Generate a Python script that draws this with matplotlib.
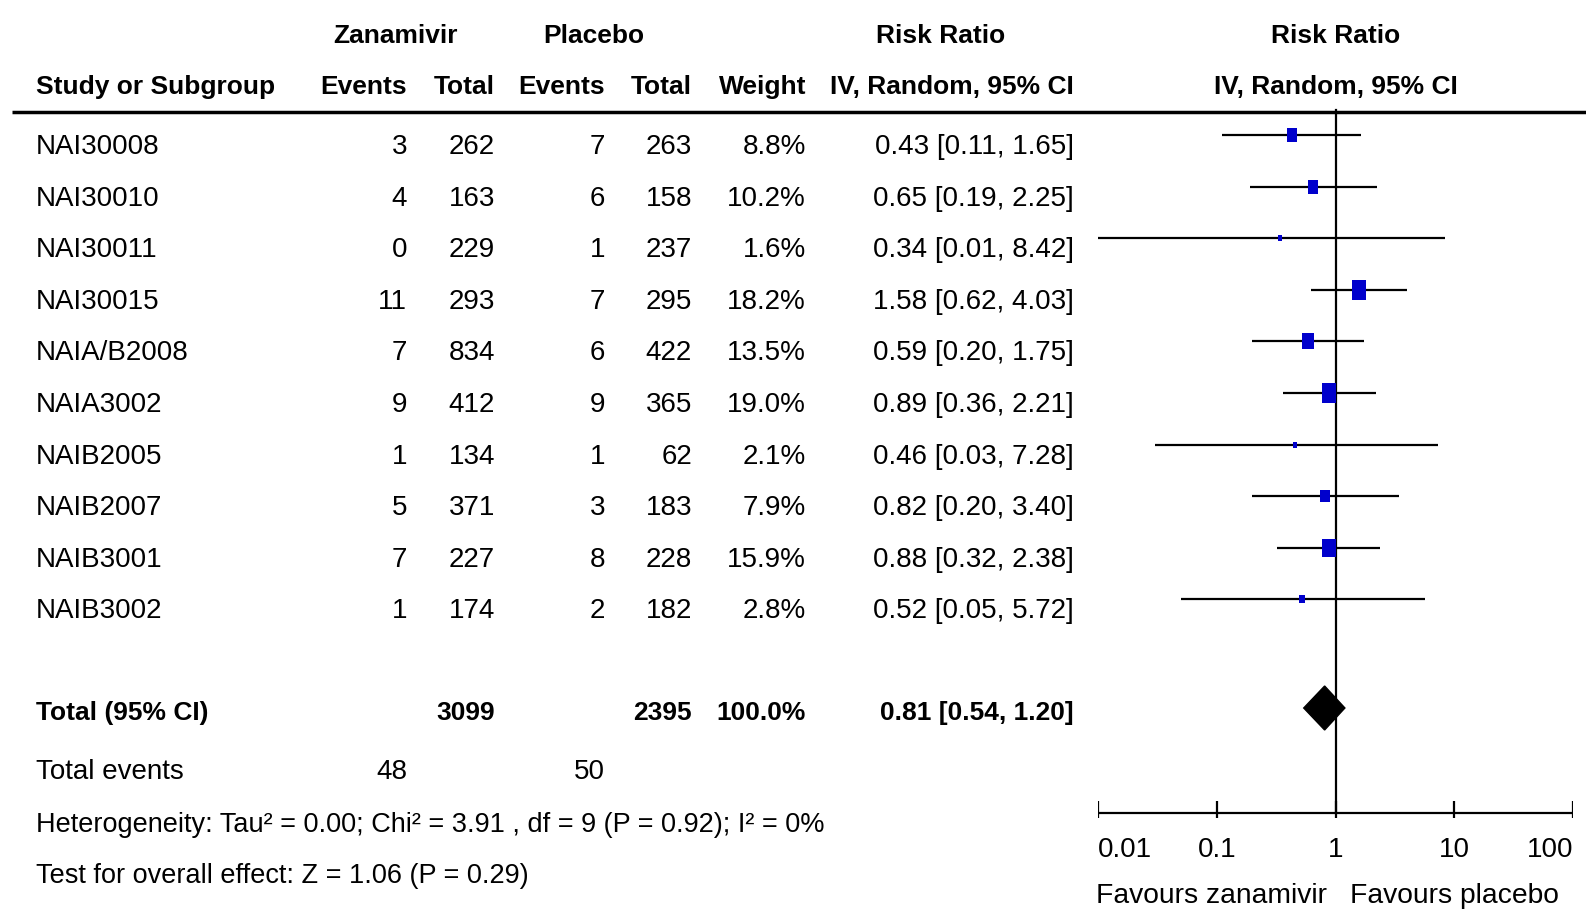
import matplotlib
matplotlib.use("Agg")
import matplotlib.pyplot as plt
import numpy as np

# --- data ---
studies = ["NAI30008", "NAI30010", "NAI30011", "NAI30015", "NAIA/B2008",
           "NAIA3002", "NAIB2005", "NAIB2007", "NAIB3001", "NAIB3002"]
zan_events = [3, 4, 0, 11, 7, 9, 1, 5, 7, 1]
zan_total = [262, 163, 229, 293, 834, 412, 134, 371, 227, 174]
pla_events = [7, 6, 1, 7, 6, 9, 1, 3, 8, 2]
pla_total = [263, 158, 237, 295, 422, 365, 62, 183, 228, 182]
weight = [8.8, 10.2, 1.6, 18.2, 13.5, 19.0, 2.1, 7.9, 15.9, 2.8]
rr = [0.43, 0.65, 0.34, 1.58, 0.59, 0.89, 0.46, 0.82, 0.88, 0.52]
ci_low = [0.11, 0.19, 0.01, 0.62, 0.20, 0.36, 0.03, 0.20, 0.32, 0.05]
ci_high = [1.65, 2.25, 8.42, 4.03, 1.75, 2.21, 7.28, 3.40, 2.38, 5.72]

total_zan, total_pla = 3099, 2395
events_zan, events_pla = 48, 50
total_rr, total_low, total_high = 0.81, 0.54, 1.20
heterogeneity = "Heterogeneity: Tau² = 0.00; Chi² = 3.91 , df = 9 (P = 0.92); I² = 0%"
overall = "Test for overall effect: Z = 1.06 (P = 0.29)"
axis_ticks = [0.01, 0.1, 1, 10, 100]
tick_labels = ["0.01", "0.1", "1", "10", "100"]

plt.rcParams["font.family"] = ["Liberation Sans", "DejaVu Sans"]

W, H = 1586, 911
fig = plt.figure(figsize=(W / 100, H / 100), dpi=100)
ax = fig.add_axes([0, 0, 1, 1])
ax.set_xlim(0, W)
ax.set_ylim(H, 0)
ax.axis("off")

# forest panel spans pixels 1098..1573 on a log scale
px0, px1 = 1098, 1573
axf = fig.add_axes([px0 / W, 0, (px1 - px0) / W, 1])
axf.set_xscale("log")
axf.set_xlim(0.01, 100)
axf.set_ylim(H, 0)
axf.axis("off")
axf.patch.set_alpha(0)

txt = dict(fontsize=20, color="black", va="center")
bold = dict(txt, fontsize=19, fontweight="bold")
foot = dict(txt, fontsize=19.5)

# header
ax.text(396, 36, "Zanamivir", ha="center", **bold)
ax.text(594, 36, "Placebo", ha="center", **bold)
ax.text(941, 36, "Risk Ratio", ha="center", **bold)
ax.text(1336, 36, "Risk Ratio", ha="center", **bold)
ax.text(36, 87, "Study or Subgroup", ha="left", **bold)
col_x = [407, 495, 605, 692, 806]
for x, h in zip(col_x, ["Events", "Total", "Events", "Total", "Weight"]):
    ax.text(x, 87, h, ha="right", **bold)
ax.text(1074, 87, "IV, Random, 95% CI", ha="right", **bold)
ax.text(1336, 87, "IV, Random, 95% CI", ha="center", **bold)
ax.plot([12, W], [112, 112], color="black", lw=2.5, solid_capstyle="butt")

# study rows
row_y = 147 + 51.6 * np.arange(len(studies))
for i, y in enumerate(row_y):
    ax.text(36, y, studies[i], ha="left", **txt)
    ax.text(col_x[0], y, str(zan_events[i]), ha="right", **txt)
    ax.text(col_x[1], y, str(zan_total[i]), ha="right", **txt)
    ax.text(col_x[2], y, str(pla_events[i]), ha="right", **txt)
    ax.text(col_x[3], y, str(pla_total[i]), ha="right", **txt)
    ax.text(col_x[4], y, f"{weight[i]:.1f}%", ha="right", **txt)
    ax.text(1074, y, f"{rr[i]:.2f} [{ci_low[i]:.2f}, {ci_high[i]:.2f}]", ha="right", **txt)

# forest marks (slightly above the text centre, as in RevMan)
mark_y = row_y - 12
rect = [(-1, -1.4), (1, -1.4), (1, 1.4), (-1, 1.4), (-1, -1.4)]
for i, y in enumerate(mark_y):
    axf.plot([ci_low[i], ci_high[i]], [y, y], color="black", lw=1.6, solid_capstyle="butt")
    axf.plot(rr[i], y, marker=rect, color="#0000CC", ms=3.3 * np.sqrt(weight[i]),
             markeredgewidth=0, zorder=3)

# total row
ty = 713
ax.text(36, ty, "Total (95% CI)", ha="left", **bold)
ax.text(col_x[1], ty, str(total_zan), ha="right", **bold)
ax.text(col_x[3], ty, str(total_pla), ha="right", **bold)
ax.text(col_x[4], ty, "100.0%", ha="right", **bold)
ax.text(1074, ty, f"{total_rr:.2f} [{total_low:.2f}, {total_high:.2f}]", ha="right", **bold)
dy = 708
axf.fill([total_low, total_rr, total_high, total_rr], [dy, dy - 22, dy, dy + 22],
         color="black", zorder=3)

ax.text(36, 772, "Total events", ha="left", **txt)
ax.text(col_x[0], 772, str(events_zan), ha="right", **txt)
ax.text(col_x[2], 772, str(events_pla), ha="right", **txt)
ax.text(36, 825, heterogeneity, ha="left", **foot)
ax.text(36, 876, overall, ha="left", **foot)

# axis of the forest panel
axis_y = 813
axf.plot([1, 1], [110, axis_y], color="black", lw=1.6)
axf.plot([0.01, 100], [axis_y, axis_y], color="black", lw=1.6)
axf.vlines(axis_ticks, axis_y - 12, axis_y + 5, color="black", lw=1.6)
for t, lab in zip(axis_ticks, tick_labels):
    ha = "left" if t == axis_ticks[0] else ("right" if t == axis_ticks[-1] else "center")
    axf.text(t, 850, lab, ha=ha, **txt)
lab_kw = dict(txt, fontsize=20.3)
axf.text(0.85, 896, "Favours zanamivir", ha="right", **lab_kw)
axf.text(1.32, 896, "Favours placebo", ha="left", **lab_kw)

fig.savefig("out.png", dpi=100)
